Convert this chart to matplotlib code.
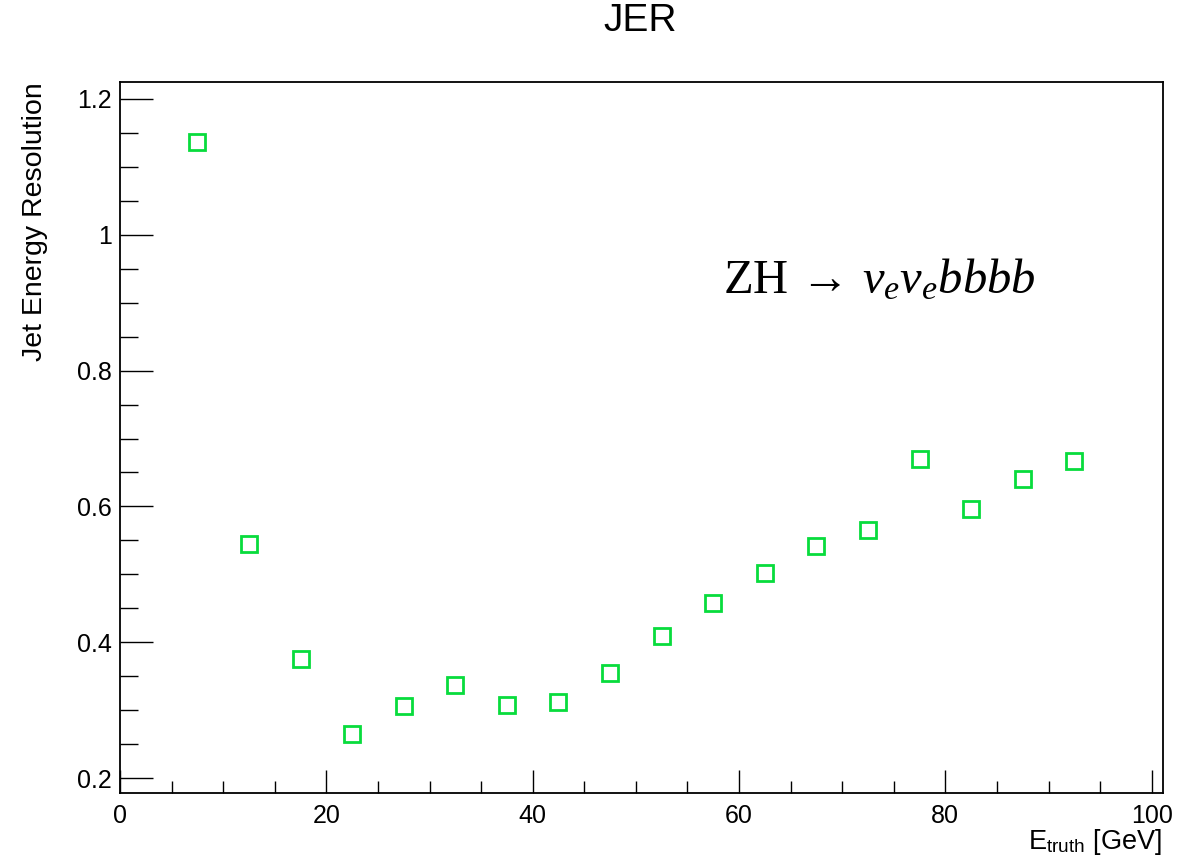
import matplotlib
matplotlib.use("Agg")
import matplotlib.pyplot as plt
from matplotlib.ticker import MultipleLocator

plt.rcParams['font.family'] = ['Liberation Sans', 'DejaVu Sans']
plt.rcParams['mathtext.fontset'] = 'custom'
plt.rcParams['mathtext.rm'] = 'Liberation Serif'
plt.rcParams['mathtext.it'] = 'Liberation Serif:italic'
plt.rcParams['mathtext.sf'] = 'Liberation Sans'

# bin centres [GeV] and resolution values
e_truth = [7.5, 12.5, 17.5, 22.5, 27.5, 32.5, 37.5, 42.5, 47.5,
           52.5, 57.5, 62.5, 67.5, 72.5, 77.5, 82.5, 87.5, 92.5]
jer = [1.137, 0.544, 0.376, 0.265, 0.306, 0.337, 0.307, 0.312, 0.354,
       0.409, 0.458, 0.502, 0.541, 0.565, 0.670, 0.596, 0.640, 0.667]

fig = plt.figure(figsize=(11.93, 8.57), dpi=100)
ax = fig.add_axes([0.1006, 0.0747, 0.8743, 0.8296])

ax.plot(e_truth, jer, linestyle='none', marker='s', markersize=11.5,
        markerfacecolor='none', markeredgecolor='#08dc3c', markeredgewidth=2.0)

ax.set_xlim(0, 101.1)
ax.set_ylim(0.178, 1.225)

ax.xaxis.set_major_locator(MultipleLocator(20))
ax.xaxis.set_minor_locator(MultipleLocator(5))
ax.yaxis.set_major_locator(MultipleLocator(0.2))
ax.yaxis.set_minor_locator(MultipleLocator(0.05))
ax.set_yticks([0.2, 0.4, 0.6, 0.8, 1.0, 1.2])
ax.set_yticklabels(['0.2', '0.4', '0.6', '0.8', '1', '1.2'])

ax.tick_params(axis='both', which='both', direction='in', top=False, right=False,
               width=1.0, labelsize=18, colors='black')
ax.tick_params(axis='y', which='major', length=23.5, pad=6)
ax.tick_params(axis='y', which='minor', length=12.7)
ax.tick_params(axis='x', which='major', length=16.6, pad=8)
ax.tick_params(axis='x', which='minor', length=8.4)

for s in ax.spines.values():
    s.set_linewidth(1.3)

fig.text(0.537, 0.975, 'JER', ha='center', va='center', fontsize=28)
fig.text(0.029, 0.904, 'Jet Energy Resolution', rotation=90, ha='center', va='top', fontsize=20.5)
fig.text(0.974, 0.009, r'E$_{\mathsf{truth}}$ [GeV]', ha='right', va='baseline', fontsize=19.5)

ax.text(58.4, 0.914, r'$\mathrm{ZH}\,\rightarrow\,v_e v_e bbbb$', fontsize=35,
        ha='left', va='baseline')

fig.savefig('out.png', dpi=100)
